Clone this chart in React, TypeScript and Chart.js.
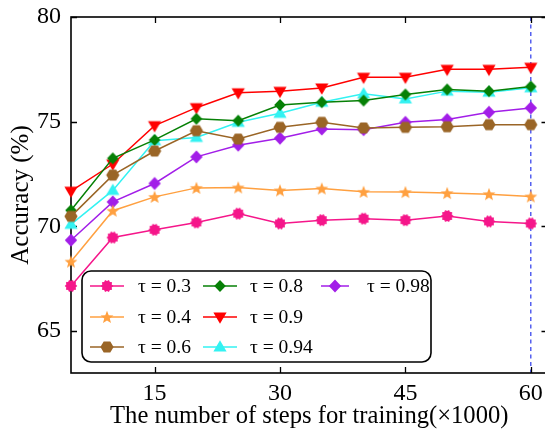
import React, { useEffect, useRef } from 'react';
import { Chart, registerables } from 'chart.js';

Chart.register(...registerables);

// ---------- data ----------
const steps = [5, 10, 15, 20, 25, 30, 35, 40, 45, 50, 55, 60];
const xTickValues = [15, 30, 45, 60];
const yTickValues = [65, 70, 75, 80];
const markedStep = 60;

const tau03 = [67.16, 69.47, 69.84, 70.19, 70.61, 70.14, 70.3, 70.37, 70.3, 70.5, 70.24, 70.14];
const tau04 = [68.32, 70.75, 71.41, 71.84, 71.86, 71.72, 71.81, 71.65, 71.64, 71.59, 71.54, 71.43];
const tau06 = [70.48, 72.45, 73.6, 74.57, 74.17, 74.73, 74.97, 74.7, 74.73, 74.76, 74.86, 74.86];
const tau08 = [70.77, 73.25, 74.13, 75.14, 75.05, 75.8, 75.93, 76.01, 76.3, 76.54, 76.46, 76.68];
const tau09 = [71.68, 72.98, 74.81, 75.67, 76.38, 76.45, 76.61, 77.12, 77.12, 77.5, 77.5, 77.6];
const tau094 = [70.1, 71.72, 74.09, 74.25, 74.97, 75.4, 75.93, 76.33, 76.09, 76.46, 76.41, 76.62];
const tau098 = [69.34, 71.17, 72.05, 73.32, 73.88, 74.21, 74.65, 74.62, 74.97, 75.1, 75.45, 75.66];

const seriesLabels = ['τ = 0.3', 'τ = 0.4', 'τ = 0.6', 'τ = 0.8', 'τ = 0.9', 'τ = 0.94', 'τ = 0.98'];
const seriesValues = [tau03, tau04, tau06, tau08, tau09, tau094, tau098];
const seriesColors = ['#f5168a', '#ffa040', '#9a6526', '#068006', '#ff0000', '#33f2f2', '#a21ee8'];
const seriesMarkers = ['gear', 'star', 'hex', 'diamond', 'tridown', 'triup', 'diamond2'];

const xTitle = 'The number of steps for training(×1000)';
const yTitle = 'Accuracy (%)';

const FONT = "'Liberation Serif', 'Times New Roman', serif";

// ---------- markers ----------
function makeMarker(kind: string, color: string): HTMLCanvasElement {
  const c = document.createElement('canvas');
  c.width = 18;
  c.height = 18;
  const g = c.getContext('2d')!;
  g.fillStyle = color;
  const cx = 9, cy = 9;
  g.beginPath();
  if (kind === 'gear') {
    const n = 10;
    for (let i = 0; i < 2 * n; i++) {
      const r = i % 2 === 0 ? 6.3 : 4.9;
      const a = (i * Math.PI) / n;
      const px = cx + r * Math.cos(a), py = cy + r * Math.sin(a);
      if (i === 0) g.moveTo(px, py); else g.lineTo(px, py);
    }
  } else if (kind === 'star') {
    for (let i = 0; i < 10; i++) {
      const r = i % 2 === 0 ? 6.8 : 2.9;
      const a = -Math.PI / 2 + (i * Math.PI) / 5;
      const px = cx + r * Math.cos(a), py = cy + 0.5 + r * Math.sin(a);
      if (i === 0) g.moveTo(px, py); else g.lineTo(px, py);
    }
  } else if (kind === 'hex') {
    for (let i = 0; i < 6; i++) {
      const a = (i * Math.PI) / 3;
      const px = cx + 6.6 * Math.cos(a), py = cy + 6.3 * Math.sin(a);
      if (i === 0) g.moveTo(px, py); else g.lineTo(px, py);
    }
  } else if (kind === 'diamond' || kind === 'diamond2') {
    const rx = kind === 'diamond' ? 5.8 : 6.2;
    const ry = kind === 'diamond' ? 6.0 : 6.6;
    g.moveTo(cx, cy - ry);
    g.lineTo(cx + rx, cy);
    g.lineTo(cx, cy + ry);
    g.lineTo(cx - rx, cy);
  } else if (kind === 'tridown') {
    g.moveTo(cx - 6.6, cy - 4.6);
    g.lineTo(cx + 6.6, cy - 4.6);
    g.lineTo(cx, cy + 6.8);
  } else if (kind === 'triup') {
    g.moveTo(cx - 6.6, cy + 4.6);
    g.lineTo(cx + 6.6, cy + 4.6);
    g.lineTo(cx, cy - 6.8);
  }
  g.closePath();
  g.fill();
  return c;
}

// ---------- legend layout ----------
const legendBox = { left: 82, top: 271, right: 431, bottom: 362, radius: 9 };
const legendCols = [
  { lineX0: 90, lineX1: 124, textX: 138 },
  { lineX0: 203, lineX1: 237, textX: 250 },
  { lineX0: 321, lineX1: 349, textX: 367 },
];
const legendRows = [286, 317, 347];

export default function App() {
  const ref = useRef<HTMLCanvasElement | null>(null);

  useEffect(() => {
    document.body.style.margin = '0';
    const canvas = ref.current;
    if (!canvas) return;
    const markers = seriesMarkers.map((k, i) => makeMarker(k, seriesColors[i]));

    const framePlugin = {
      id: 'frameTicks',
      beforeDatasetsDraw(chart: any) {
        const { ctx, chartArea: a } = chart;
        const xs = chart.scales.x, ys = chart.scales.y;
        ctx.save();
        // dashed marker line
        const xm = xs.getPixelForValue(markedStep);
        ctx.strokeStyle = '#4a55ee';
        ctx.lineWidth = 1.4;
        ctx.setLineDash([4, 3.5]);
        ctx.beginPath();
        ctx.moveTo(xm, a.top);
        ctx.lineTo(xm, a.bottom);
        ctx.stroke();
        ctx.setLineDash([]);
        // frame
        ctx.strokeStyle = '#000';
        ctx.lineWidth = 1.6;
        ctx.strokeRect(a.left, a.top, a.right - a.left, a.bottom - a.top);
        // inward ticks
        ctx.lineWidth = 1.3;
        ctx.beginPath();
        const tl = 6;
        xTickValues.forEach((v) => {
          const p = Math.round(xs.getPixelForValue(v)) + 0.5;
          ctx.moveTo(p, a.bottom);
          ctx.lineTo(p, a.bottom - tl);
          ctx.moveTo(p, a.top);
          ctx.lineTo(p, a.top + tl);
        });
        yTickValues.forEach((v) => {
          const p = Math.round(ys.getPixelForValue(v)) + 0.5;
          ctx.moveTo(a.left, p);
          ctx.lineTo(a.left + tl, p);
          ctx.moveTo(a.right, p);
          ctx.lineTo(a.right - tl, p);
        });
        ctx.stroke();
        ctx.restore();
      },
      afterDatasetsDraw(chart: any) {
        const { ctx } = chart;
        ctx.save();
        const b = legendBox;
        ctx.beginPath();
        ctx.roundRect(b.left, b.top, b.right - b.left, b.bottom - b.top, b.radius);
        ctx.fillStyle = '#fff';
        ctx.fill();
        ctx.strokeStyle = '#000';
        ctx.lineWidth = 1.6;
        ctx.stroke();
        ctx.font = `19.5px ${FONT}`;
        ctx.textBaseline = 'middle';
        ctx.textAlign = 'left';
        seriesLabels.forEach((lab, i) => {
          const col = legendCols[Math.floor(i / 3)];
          const y = legendRows[i % 3];
          ctx.strokeStyle = seriesColors[i];
          ctx.lineWidth = 1.5;
          ctx.beginPath();
          ctx.moveTo(col.lineX0, y);
          ctx.lineTo(col.lineX1, y);
          ctx.stroke();
          const m = markers[i];
          const mx = Math.round((col.lineX0 + col.lineX1) / 2);
          ctx.drawImage(m, mx - m.width / 2, y - m.height / 2);
          ctx.fillStyle = '#000';
          ctx.fillText(lab, col.textX, y + 1);
        });
        ctx.restore();
      },
    };

    const chart = new Chart(canvas, {
      type: 'line',
      data: {
        datasets: seriesValues.map((vals, i) => ({
          label: seriesLabels[i],
          data: steps.map((s, j) => ({ x: s, y: vals[j] })),
          borderColor: seriesColors[i],
          backgroundColor: seriesColors[i],
          borderWidth: 1.5,
          pointStyle: markers[i] as any,
          pointRadius: 7,
          tension: 0,
          clip: false as any,
        })),
      },
      options: {
        responsive: false,
        animation: false,
        devicePixelRatio: 1,
        layout: { padding: { top: 17, right: 2, left: 0, bottom: 0 } },
        plugins: {
          legend: { display: false },
          tooltip: { enabled: false },
        },
        scales: {
          x: {
            type: 'linear',
            min: 5,
            max: 62,
            afterFit: (s: any) => {
              s.height = 58;
              s.paddingLeft = 0;
              s.paddingRight = 0;
              s.paddingTop = 0;
              s.paddingBottom = 0;
            },
            afterBuildTicks: (s: any) => {
              s.ticks = xTickValues.map((v) => ({ value: v }));
            },
            grid: { display: false, drawTicks: false },
            border: { display: false },
            ticks: {
              color: '#000',
              font: { family: FONT, size: 24 },
              padding: 6,
              maxRotation: 0,
              autoSkip: false,
            },
            title: {
              display: true,
              text: xTitle,
              color: '#000',
              font: { family: FONT, size: 24.6 },
              padding: { top: 2, bottom: 0 },
            },
          },
          y: {
            type: 'linear',
            min: 63,
            max: 80,
            afterFit: (s: any) => {
              s.width = 71;
              s.paddingLeft = 0;
              s.paddingRight = 0;
              s.paddingTop = 0;
              s.paddingBottom = 0;
            },
            afterBuildTicks: (s: any) => {
              s.ticks = yTickValues.map((v) => ({ value: v }));
            },
            grid: { display: false, drawTicks: false },
            border: { display: false },
            ticks: {
              color: '#000',
              font: { family: FONT, size: 24 },
              padding: 10,
              autoSkip: false,
            },
            title: {
              display: true,
              text: yTitle,
              color: '#000',
              font: { family: FONT, size: 25 },
              padding: { top: 6, bottom: 0 },
            },
          },
        },
      },
      plugins: [framePlugin],
    });
    return () => chart.destroy();
  }, []);

  return (
    <div style={{ width: 545, height: 431, overflow: 'hidden', position: 'relative', background: '#fff' }}>
      <canvas ref={ref} width={556} height={431} style={{ display: 'block' }} />
    </div>
  );
}
